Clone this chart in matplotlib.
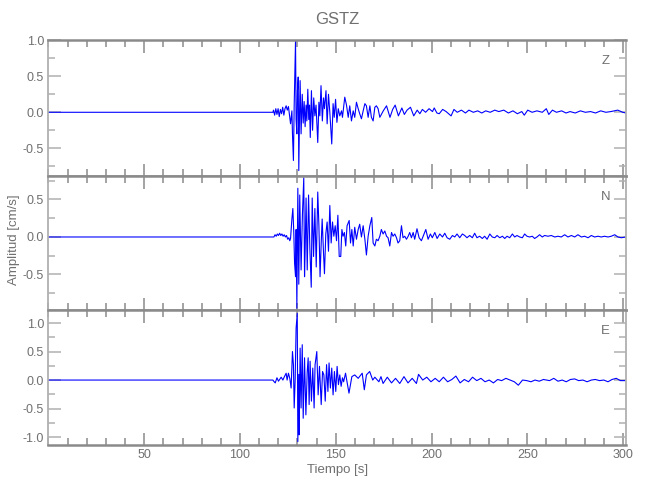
import matplotlib
matplotlib.use("Agg")
import matplotlib.pyplot as plt
from matplotlib.ticker import MultipleLocator, FormatStrFormatter, FixedLocator

plt.rcParams['font.family'] = ['Liberation Sans', 'DejaVu Sans']
plt.rcParams['axes.unicode_minus'] = False

title = "GSTZ"
components = ["Z", "N", "E"]
xlabel = "Tiempo [s]"
ylabel = "Amplitud [cm/s]"
xlim = (0.0, 301.5)
xticks_major = [50, 100, 150, 200, 250, 300]
ylims = [(-0.878, 1.011), (-0.967, 0.82), (-1.13, 1.237)]

# ---- Z component (time s, amplitude cm/s) ----
z_t = [0.0, 117.2, 117.5, 118.1, 118.7, 119.3, 119.9, 120.5, 121.1, 121.7, 122.3, 122.9,
       123.5, 124.1, 124.7, 125.3, 125.9, 126.4, 127.1, 127.4, 127.9, 128.3, 128.6, 129.0,
       129.3, 129.7, 130.0, 130.4, 130.7, 131.1, 131.4, 131.9, 132.5, 133.0, 133.5, 134.0,
       134.5, 134.9, 135.4, 135.9, 136.3, 136.7, 137.3, 137.9, 138.5, 139.1, 139.7, 140.6,
       141.2, 141.7, 142.3, 143.0, 143.6, 144.1, 144.9, 145.5, 146.2, 146.9, 147.9, 148.6,
       149.2, 149.9, 150.6, 151.3, 152.1, 153.0, 153.5, 154.7, 155.6, 156.5, 157.3, 158.2,
       159.1, 159.9, 160.8, 161.7, 162.5, 163.4, 164.3, 165.2, 166.0, 166.9, 167.8, 168.6,
       169.5, 170.4, 171.2, 172.1, 173.0, 174.8, 176.5, 178.3, 179.7, 181.0, 182.7, 184.5,
       185.8, 187.2, 189.0, 190.7, 192.5, 193.9, 195.2, 196.9, 198.7, 200.5, 201.4, 202.8,
       204.0, 205.8, 207.6, 210.2, 211.7, 213.4, 215.6, 217.7, 219.5, 221.8, 224.1, 226.2,
       228.3, 230.6, 233.0, 235.1, 237.7, 240.1, 242.5, 244.8, 247.1, 248.4, 250.2, 252.5,
       255.0, 257.8, 259.9, 261.2, 263.1, 265.2, 267.9, 270.2, 272.3, 275.0, 277.7, 280.3,
       283.0, 285.6, 288.3, 291.0, 293.6, 297.2, 299.8, 301.5]
z_v = [0.0, 0.0, 0.03, -0.04, 0.05, -0.03, 0.05, -0.06, 0.04, -0.02, 0.07, -0.04,
       0.05, 0.09, 0.03, 0.08, -0.05, -0.16, 0.02, -0.3, -0.67, 0.1, 0.5, 1.0,
       -0.1, -0.3, 0.3, 0.49, -0.81, 0.0, 0.44, -0.3, 0.25, -0.15, 0.15, -0.2,
       0.1, -0.12, 0.32, -0.1, 0.1, -0.35, 0.3, -0.25, 0.2, -0.05, 0.1, -0.42,
       0.14, -0.05, 0.37, -0.12, 0.2, 0.05, 0.3, -0.16, 0.25, 0.0, -0.44, 0.12,
       -0.07, 0.18, -0.14, 0.05, -0.05, 0.02, -0.07, 0.21, 0.1, -0.07, 0.09, -0.12,
       0.02, -0.07, 0.14, 0.05, -0.02, -0.09, 0.02, 0.12, 0.09, -0.07, 0.09, -0.07,
       -0.12, 0.07, 0.09, 0.05, -0.07, 0.02, 0.09, -0.07, 0.04, 0.1, -0.05, 0.06,
       -0.03, 0.03, 0.07, -0.05, 0.03, -0.02, 0.04, 0.0, 0.05, 0.01, 0.06, -0.01,
       -0.02, 0.04, 0.01, -0.05, 0.04, 0.0, 0.03, -0.01, 0.03, 0.0, 0.02, -0.01,
       0.02, 0.0, 0.03, 0.01, 0.03, -0.01, 0.02, -0.02, 0.01, -0.04, 0.03, 0.0,
       0.02, 0.0, 0.05, -0.03, 0.03, 0.0, 0.02, -0.01, 0.01, -0.01, 0.02, 0.0,
       0.01, -0.01, 0.02, 0.0, 0.01, 0.03, 0.0, -0.01]

# ---- N component ----
n_t = [0.0, 117.7, 118.3, 118.9, 119.5, 120.1, 120.7, 121.3, 121.9, 122.5, 123.1, 123.7,
       124.3, 124.9, 125.5, 126.0, 126.4, 127.1, 127.6, 128.1, 128.5, 129.0, 129.3, 129.7,
       130.2, 130.7, 131.2, 131.9, 132.6, 133.3, 133.7, 134.0, 134.5, 135.1, 135.8, 136.5,
       137.2, 137.7, 138.4, 139.1, 139.8, 140.6, 141.2, 141.8, 142.4, 142.9, 143.6, 144.1,
       144.8, 145.5, 146.2, 146.9, 147.6, 148.3, 149.0, 149.7, 150.4, 151.1, 151.8, 152.6,
       153.2, 153.8, 154.5, 155.2, 155.9, 157.0, 157.7, 158.4, 159.1, 159.9, 160.8, 161.7,
       162.5, 163.4, 164.3, 165.2, 166.0, 166.9, 167.8, 168.8, 169.5, 170.4, 171.2, 172.1,
       173.0, 173.8, 174.7, 175.6, 176.5, 177.3, 178.2, 179.1, 179.9, 180.8, 181.7, 182.5,
       183.4, 184.3, 185.1, 186.0, 186.9, 187.8, 188.6, 189.5, 190.4, 191.2, 192.4, 193.5,
       194.7, 195.6, 197.0, 198.2, 199.4, 200.4, 201.7, 202.9, 204.3, 205.7, 206.9, 208.1,
       209.5, 210.9, 212.1, 213.3, 214.7, 216.1, 217.3, 218.5, 219.9, 221.3, 222.5, 223.7,
       225.1, 226.5, 227.7, 229.0, 230.4, 231.7, 233.0, 234.2, 235.6, 237.0, 238.2, 239.4,
       240.8, 242.2, 243.4, 244.6, 246.0, 247.4, 248.6, 249.8, 251.2, 252.6, 253.8, 255.0,
       256.4, 257.8, 259.0, 260.8, 262.5, 264.3, 266.0, 267.7, 269.5, 271.2, 273.0, 274.7,
       276.4, 278.2, 279.9, 281.7, 283.4, 285.1, 286.9, 288.6, 290.3, 292.1, 293.8, 295.6,
       297.3, 299.0, 301.5]
n_v = [0.0, 0.0, 0.03, 0.01, 0.04, 0.02, 0.05, 0.02, 0.04, 0.01, 0.03, 0.0,
       0.02, -0.03, -0.01, -0.05, -0.02, 0.24, 0.38, 0.05, -0.35, -0.53, 0.1, -0.95,
       0.65, -0.63, 0.56, -0.44, 0.3, 0.79, -0.53, -0.2, 0.52, -0.44, 0.56, -0.17,
       -0.67, 0.52, -0.26, 0.38, -0.4, 0.6, 0.15, -0.53, -0.08, 0.24, -0.21, -0.49,
       0.04, 0.2, -0.19, 0.42, -0.08, 0.2, 0.01, 0.15, -0.05, 0.29, -0.26, -0.26,
       0.1, 0.01, 0.06, -0.12, 0.15, 0.22, -0.08, 0.1, -0.12, 0.13, -0.03, 0.1,
       0.17, 0.0, 0.15, -0.03, -0.24, 0.01, 0.15, 0.26, -0.08, -0.12, -0.03, -0.05,
       0.01, 0.1, 0.04, 0.08, 0.01, -0.01, -0.12, 0.06, 0.01, 0.04, -0.01, -0.08,
       -0.05, 0.15, -0.01, 0.01, -0.03, 0.01, 0.06, -0.01, 0.06, -0.03, 0.11, -0.01,
       -0.05, 0.01, 0.1, -0.03, 0.04, -0.01, 0.06, -0.02, 0.04, 0.0, 0.05, -0.01,
       -0.03, 0.02, 0.0, 0.04, -0.01, 0.04, 0.02, -0.01, 0.02, -0.01, 0.05, -0.01,
       0.01, -0.02, 0.01, -0.03, 0.04, 0.0, -0.01, 0.02, -0.01, 0.01, -0.02, 0.01,
       -0.01, 0.04, 0.0, 0.02, 0.0, -0.01, 0.04, 0.01, 0.0, 0.01, -0.02, 0.0,
       0.03, 0.0, 0.02, 0.01, 0.02, 0.0, 0.01, 0.0, 0.03, 0.0, 0.02, 0.0,
       0.03, 0.0, 0.01, -0.01, 0.02, 0.0, 0.01, 0.0, 0.01, 0.0, 0.01, 0.03,
       0.0, -0.01, 0.0]

# ---- E component ----
e_t = [0.0, 117.2, 117.6, 118.4, 119.3, 120.1, 121.5, 122.4, 123.2, 124.1, 124.6, 125.3,
       126.0, 126.7, 127.4, 127.9, 128.3, 128.8, 129.3, 129.9, 130.2, 130.7, 130.9, 131.4,
       131.9, 132.5, 133.0, 133.7, 134.4, 135.1, 135.6, 136.1, 136.6, 137.3, 138.0, 138.7,
       139.2, 140.1, 140.8, 141.5, 142.4, 143.1, 143.8, 144.5, 145.2, 145.9, 146.5, 147.2,
       147.9, 148.6, 149.3, 150.0, 150.7, 151.4, 152.1, 152.8, 153.5, 154.1, 155.1, 156.9,
       158.4, 159.9, 161.7, 163.8, 164.9, 166.0, 167.7, 169.3, 170.4, 172.5, 173.6, 174.7,
       176.9, 179.1, 181.2, 183.4, 185.6, 187.7, 189.9, 192.1, 193.2, 195.4, 197.5, 199.7,
       201.9, 204.0, 206.2, 208.4, 210.6, 212.7, 214.9, 217.1, 219.3, 221.4, 223.6, 225.8,
       227.9, 230.1, 232.3, 234.5, 236.6, 238.8, 241.0, 243.2, 245.3, 247.5, 249.7, 251.9,
       254.0, 256.2, 258.4, 261.6, 263.8, 266.0, 268.2, 270.3, 272.5, 274.7, 276.8, 279.0,
       281.2, 283.4, 285.5, 287.7, 289.9, 292.1, 294.2, 296.4, 298.6, 300.8]
e_v = [0.0, 0.0, -0.02, -0.05, 0.04, -0.02, 0.05, 0.0, 0.06, 0.12, 0.0, 0.12,
       0.03, -0.14, 0.5, 0.27, -0.49, 0.0, 0.91, 1.17, -1.08, 0.1, -0.96, 0.56,
       -0.49, 0.62, -0.67, 0.39, -0.61, 0.15, 0.39, -0.43, 0.33, -0.37, 0.21, -0.49,
       0.27, 0.5, -0.26, 0.24, -0.43, 0.15, 0.09, -0.37, 0.27, -0.2, 0.3, -0.14,
       0.21, -0.26, 0.15, -0.2, 0.24, -0.08, 0.09, -0.11, 0.04, -0.03, 0.12, -0.23,
       0.06, 0.09, 0.03, 0.12, -0.17, 0.09, 0.15, 0.0, 0.05, -0.03, 0.06, -0.06,
       0.05, -0.05, 0.03, -0.06, 0.06, -0.05, 0.03, -0.06, 0.1, 0.0, 0.05, -0.03,
       0.03, -0.03, 0.05, -0.03, 0.01, 0.07, -0.05, 0.01, -0.03, 0.05, -0.01, 0.03,
       -0.03, 0.0, -0.05, 0.01, -0.01, 0.03, 0.0, -0.03, -0.09, 0.0, -0.01, -0.03,
       0.0, -0.02, 0.01, -0.01, 0.03, -0.02, 0.0, -0.03, 0.01, 0.02, -0.01, 0.0,
       -0.03, 0.0, 0.01, -0.01, 0.0, -0.03, 0.01, 0.03, -0.01, -0.01]

traces = [(z_t, z_v), (n_t, n_v), (e_t, e_v)]

W, H = 650, 500
fig = plt.figure(figsize=(W / 100, H / 100), dpi=100)
left_px, right_px = 48.4, 626.0
panels_px = [(39.5, 175.5), (175.5, 309.5), (309.5, 444.5)]

xcol = '#8a8a8a'
ycol = '#b0b0b0'
txtcol = '#707070'

for i, ((top, bot), (t, v), comp, yl) in enumerate(zip(panels_px, traces, components, ylims)):
    ax = fig.add_axes([left_px / W, 1 - bot / H, (right_px - left_px) / W, (bot - top) / H])
    ax.plot(t, v, color='#0000ff', lw=0.8)
    ax.set_xlim(*xlim)
    ax.set_ylim(*yl)
    ax.xaxis.set_major_locator(FixedLocator(xticks_major))
    ax.xaxis.set_minor_locator(MultipleLocator(10))
    ax.yaxis.set_major_locator(MultipleLocator(0.5))
    ax.yaxis.set_minor_locator(MultipleLocator(0.25))
    ax.yaxis.set_major_formatter(FormatStrFormatter('%.1f'))
    ax.tick_params(axis='x', which='both', direction='in', top=True, bottom=True,
                   color=xcol, width=1.1, labelcolor=txtcol, labelsize=9, pad=3)
    ax.tick_params(axis='x', which='major', length=9)
    ax.tick_params(axis='x', which='minor', length=5)
    ax.tick_params(axis='y', which='both', direction='in', left=True, right=True,
                   color=ycol, width=1.1, labelcolor=txtcol, labelsize=9, pad=3)
    ax.tick_params(axis='y', which='major', length=9)
    ax.tick_params(axis='y', which='minor', length=5)
    for s in ('top', 'bottom'):
        ax.spines[s].set_color(xcol)
        ax.spines[s].set_linewidth(1.8)
    for s in ('left', 'right'):
        ax.spines[s].set_color(ycol)
        ax.spines[s].set_linewidth(1.3)
    if i < 2:
        ax.tick_params(axis='x', labelbottom=False)
    ax.text(0.965, 0.84, comp, transform=ax.transAxes, ha='center', va='center',
            color=txtcol, fontsize=9.5)

cx = (left_px + right_px) / 2 / W
fig.text(cx, 1 - 20 / H, title, ha='center', va='center', color=txtcol, fontsize=12)
fig.text(cx, 1 - 470 / H, xlabel, ha='center', va='center', color=txtcol, fontsize=9.5)
fig.text(14 / W, 1 - 240 / H, ylabel, ha='center', va='center', rotation=90,
         color=txtcol, fontsize=9.5)

fig.savefig('out.png', dpi=100)
